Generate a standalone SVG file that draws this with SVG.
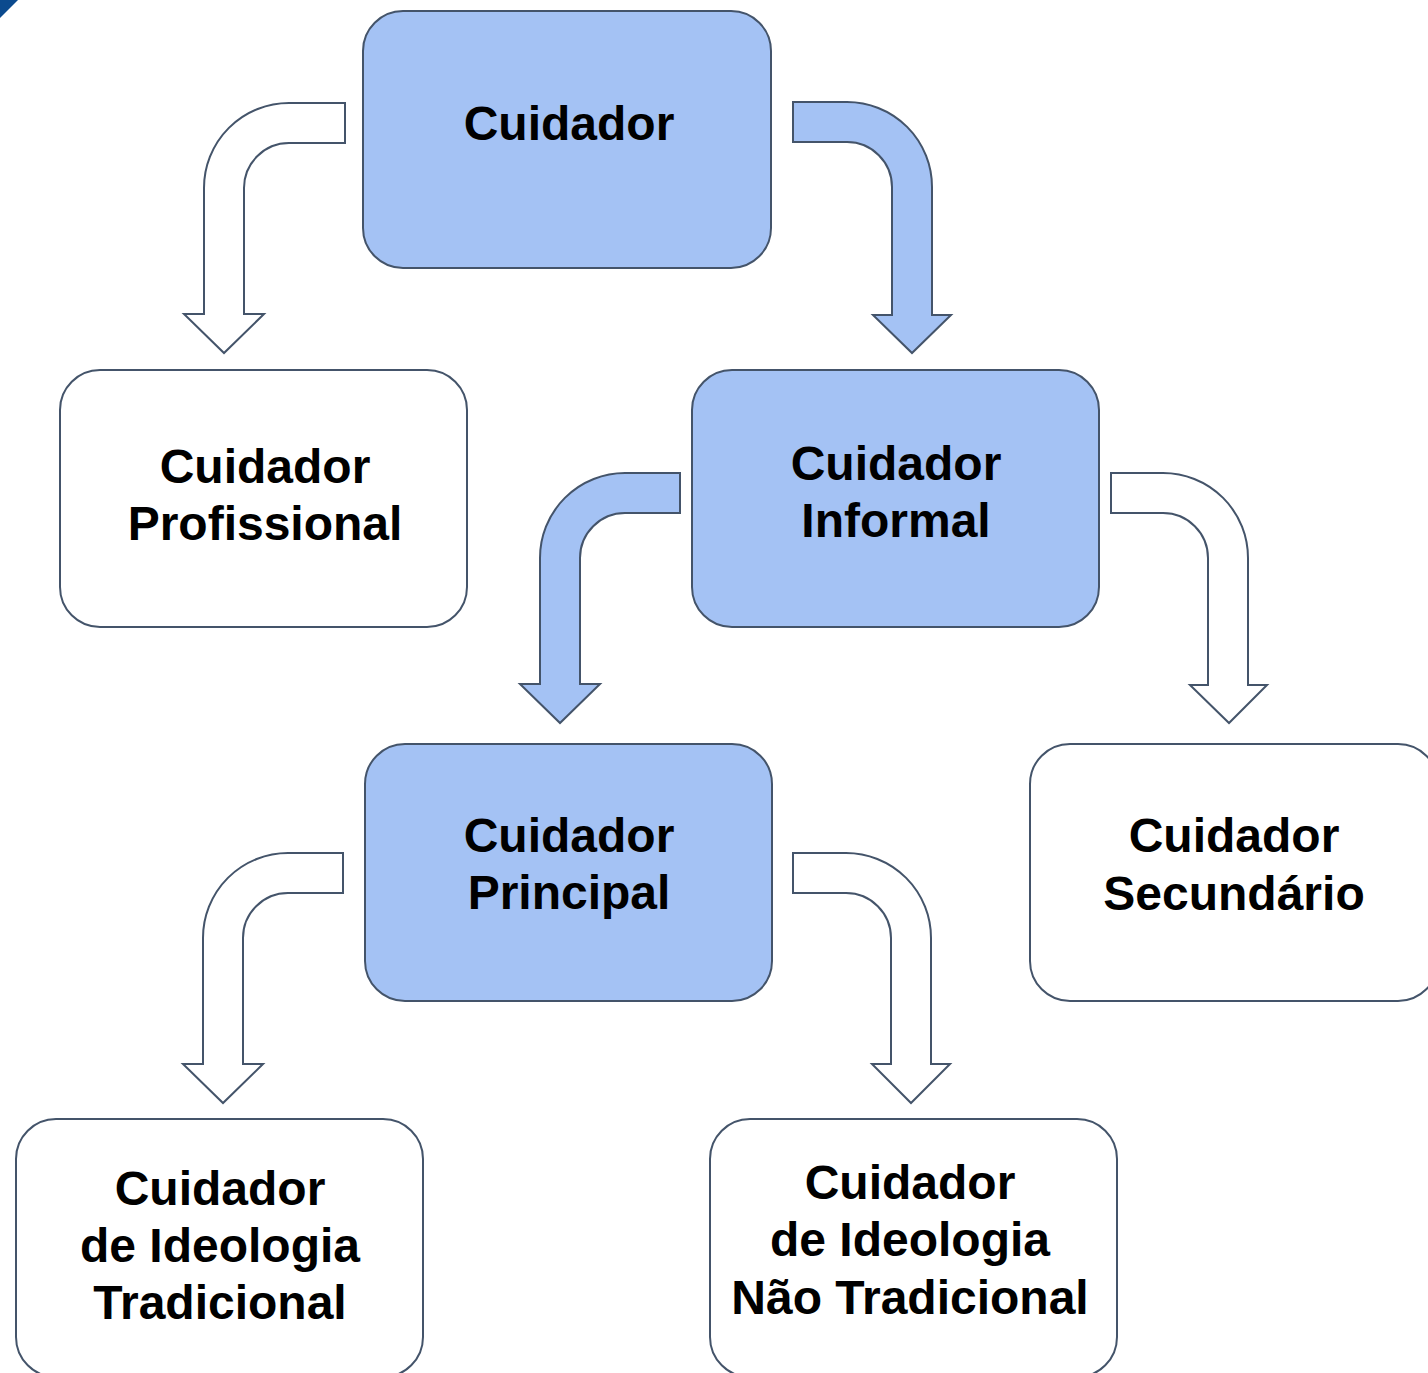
<svg xmlns="http://www.w3.org/2000/svg" width="1428" height="1373" viewBox="0 0 1428 1373">
<style>
.box{stroke:#44546a;stroke-width:2}
.blue{fill:#a4c2f4}
.white{fill:#ffffff}
.arr{stroke:#44546a;stroke-width:2;stroke-linejoin:miter}
.t{font-family:"Liberation Sans",Arial,sans-serif;font-weight:bold;font-size:48px;fill:#000;text-anchor:middle}
</style>
<rect width="1428" height="1373" fill="#ffffff"/>
<polygon points="0,0 18,0 0,18" fill="#0b4a8e"/>
<g id="connectors">
<path class="arr white" d="M345,103 L289,103 A85,85 0 0 0 204,188 L204,314 L184,314 L224,353 L264,314 L244,314 L244,188 A45,45 0 0 1 289,143 L345,143 Z"/>
<path class="arr blue" d="M793,102 L847,102 A85,85 0 0 1 932,187 L932,315 L951,315 L912,353 L873,315 L892,315 L892,187 A45,45 0 0 0 847,142 L793,142 Z"/>
<path class="arr blue" d="M680,473 L625,473 A85,85 0 0 0 540,558 L540,684 L520,684 L560,723 L600,684 L580,684 L580,558 A45,45 0 0 1 625,513 L680,513 Z"/>
<path class="arr white" d="M1111,473 L1163,473 A85,85 0 0 1 1248,558 L1248,685 L1267,685 L1229,723 L1190,685 L1208,685 L1208,558 A45,45 0 0 0 1163,513 L1111,513 Z"/>
<path class="arr white" d="M343,853 L288,853 A85,85 0 0 0 203,938 L203,1064 L183,1064 L223,1103 L263,1064 L243,1064 L243,938 A45,45 0 0 1 288,893 L343,893 Z"/>
<path class="arr white" d="M793,853 L846,853 A85,85 0 0 1 931,938 L931,1064 L950,1064 L911,1103 L872,1064 L891,1064 L891,938 A45,45 0 0 0 846,893 L793,893 Z"/>
</g>
<g id="cuidador">
<rect class="box blue" x="363" y="11" width="408" height="257" rx="40"/>
<text class="t" x="569" y="140">Cuidador</text>
</g>
<g id="profissional">
<rect class="box white" x="60" y="370" width="407" height="257" rx="40"/>
<text class="t" x="265" y="483">Cuidador</text>
<text class="t" x="265" y="540">Profissional</text>
</g>
<g id="informal">
<rect class="box blue" x="692" y="370" width="407" height="257" rx="40"/>
<text class="t" x="896" y="480">Cuidador</text>
<text class="t" x="896" y="537">Informal</text>
</g>
<g id="principal">
<rect class="box blue" x="365" y="744" width="407" height="257" rx="40"/>
<text class="t" x="569" y="852">Cuidador</text>
<text class="t" x="569" y="909">Principal</text>
</g>
<g id="secundario">
<rect class="box white" x="1030" y="744" width="408" height="257" rx="40"/>
<text class="t" x="1234" y="852">Cuidador</text>
<text class="t" x="1234" y="910">Secundário</text>
</g>
<g id="tradicional">
<rect class="box white" x="16" y="1119" width="407" height="258" rx="40"/>
<text class="t" x="220" y="1205">Cuidador</text>
<text class="t" x="220" y="1262">de Ideologia</text>
<text class="t" x="220" y="1319">Tradicional</text>
</g>
<g id="nao-tradicional">
<rect class="box white" x="710" y="1119" width="407" height="258" rx="40"/>
<text class="t" x="910" y="1199">Cuidador</text>
<text class="t" x="910" y="1256">de Ideologia</text>
<text class="t" x="910" y="1314">Não Tradicional</text>
</g>
</svg>
